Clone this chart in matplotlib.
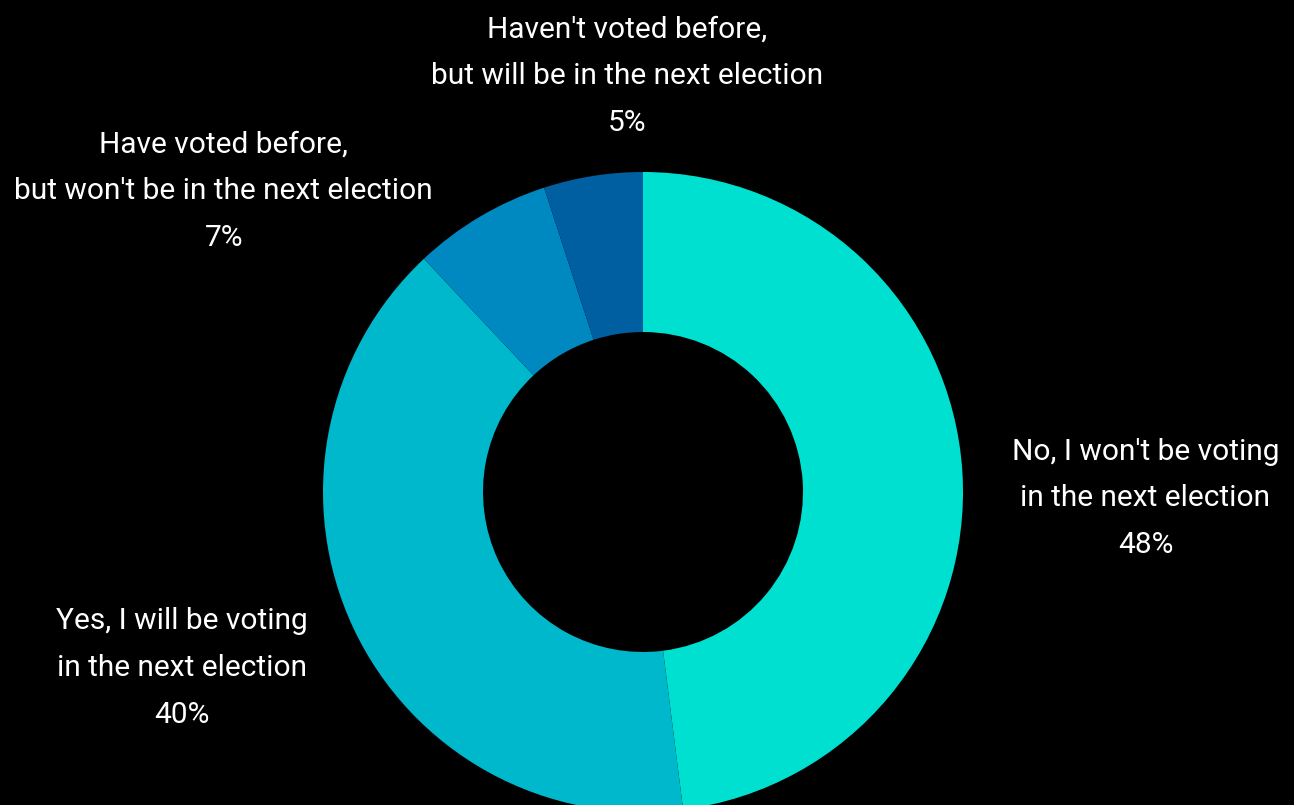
import matplotlib
matplotlib.use("Agg")
import matplotlib.pyplot as plt

labels = [
    "No, I won't be voting\nin the next election",
    "Yes, I will be voting\nin the next election",
    "Have voted before,\nbut won't be in the next election",
    "Haven't voted before,\nbut will be in the next election",
]
values = [48, 40, 7, 5]
colors = ["#00E0D0", "#00B8CC", "#0088C0", "#005FA0"]

# label anchor points, in units of the outer radius
label_pos = [(1.57, -0.02), (-1.44, -0.55), (-1.31, 0.94), (-0.05, 1.30)]

plt.rcParams["font.family"] = ["Roboto", "DejaVu Sans"]

fig = plt.figure(figsize=(12.94, 8.05), dpi=100, facecolor="black")
ax = fig.add_axes([0, 0, 1, 1])
ax.set_facecolor("black")

ax.pie(
    values,
    colors=colors,
    startangle=90,
    counterclock=False,
    radius=1.0,
    wedgeprops=dict(width=0.5, edgecolor="none"),
)

for lab, v, (x, y) in zip(labels, values, label_pos):
    ax.text(x, y, f"{lab}\n{v}%", color="white", fontsize=21.5,
            ha="center", va="center", linespacing=1.85)

# centre at (643, 492) px from top-left, outer radius 320 px
ax.set_xlim(-643 / 320, (1294 - 643) / 320)
ax.set_ylim(-(805 - 492) / 320, 492 / 320)
ax.set_aspect("auto")
ax.axis("off")

fig.savefig("out.png", dpi=100, facecolor="black")
